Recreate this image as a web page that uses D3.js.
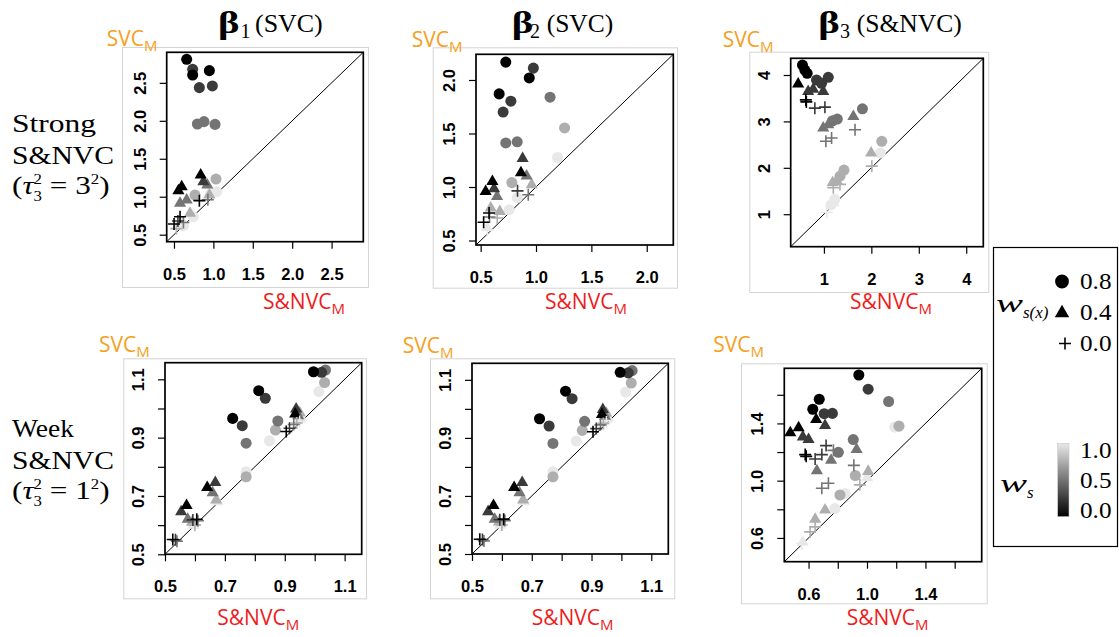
<!DOCTYPE html>
<html>
<head>
<meta charset="utf-8">
<script src="https://cdn.jsdelivr.net/npm/d3@7"></script>
<style>
  body { margin: 0; background: #fff; }
</style>
</head>
<body>
<svg id="fig" width="1119" height="637"></svg>
<script>
// Each point: [S&NVC_M, SVC_M, w_s(x), w_s]
const strongB1 = [
  [0.62,0.62,0.8,1],[0.746,0.737,0.8,1],[1.042,1.066,0.8,1],
  [1.033,1.233,0.8,0.75],[0.767,1.022,0.8,0.75],
  [0.797,1.958,0.8,0.5],[0.881,1.989,0.8,0.5],[1.021,1.953,0.8,0.5],
  [0.737,2.678,0.8,0.25],[0.822,2.437,0.8,0.25],[0.987,2.459,0.8,0.25],
  [0.661,2.810,0.8,0],[0.737,2.603,0.8,0],[0.949,2.661,0.8,0],
  [0.60,0.66,0.4,1],[0.95,1.06,0.4,1],
  [0.703,0.781,0.4,0.75],[0.949,1.022,0.4,0.75],
  [0.923,1.154,0.4,0.5],[0.577,0.913,0.4,0.5],[0.661,0.957,0.4,0.5],
  [0.873,1.198,0.4,0.25],
  [0.556,1.079,0.4,0],[0.598,1.132,0.4,0],[0.839,1.286,0.4,0],
  [0.53,0.58,0,0.75],[0.62,0.66,0,0.5],[0.93,0.96,0,0.5],
  [0.55,0.68,0,0.25],
  [0.822,0.948,0,0],[0.577,0.737,0,0],[0.501,0.640,0,0]
];
const strongB2 = [
  [1.194,1.276,0.8,1],[0.758,0.788,0.8,1],[0.83,0.90,0.8,1],
  [1.258,1.552,0.8,0.75],[0.782,1.041,0.8,0.75],
  [1.127,1.839,0.8,0.5],[0.727,1.412,0.8,0.5],[0.830,1.422,0.8,0.5],
  [0.976,2.111,0.8,0.25],[0.773,1.802,0.8,0.25],[0.703,1.700,0.8,0.25],
  [0.727,2.167,0.8,0],[0.939,2.019,0.8,0],[0.667,1.870,0.8,0],
  [0.56,0.62,0.4,1],
  [0.591,0.803,0.4,0.75],[0.673,0.772,0.4,0.75],[0.961,1.020,0.4,0.75],
  [0.648,0.911,0.4,0.5],[0.915,1.103,0.4,0.5],
  [0.621,0.983,0.4,0.25],[0.879,1.267,0.4,0.25],
  [0.545,0.958,0.4,0],[0.606,1.051,0.4,0],[0.864,1.134,0.4,0],
  [0.56,0.60,0,1],[0.65,0.71,0,0.75],
  [0.930,0.927,0,0.5],[0.58,0.72,0,0.5],
  [0.833,0.964,0,0.25],
  [0.527,0.670,0,0],[0.576,0.757,0,0]
];
const strongB3 = [
  [2.19,2.32,0.8,1],[1.23,1.32,0.8,1],[1.15,1.2,0.8,1],
  [2.22,2.571,0.8,0.75],[1.423,1.95,0.8,0.75],[1.34,1.82,0.8,0.75],
  [1.812,3.271,0.8,0.5],[1.183,3.014,0.8,0.5],[1.282,3.05,0.8,0.5],
  [0.845,3.893,0.8,0.25],[0.951,3.821,0.8,0.25],[1.092,3.950,0.8,0.25],
  [0.548,4.214,0.8,0],[0.598,4.107,0.8,0],[0.647,4.036,0.8,0],
  [1.2,1.25,0.4,1],
  [1.183,1.679,0.4,0.75],[1.995,2.321,0.4,0.75],[1.27,1.72,0.4,0.75],
  [0.986,2.857,0.4,0.5],[1.092,2.929,0.4,0.5],[1.621,3.107,0.4,0.5],
  [0.668,3.643,0.4,0.25],[0.774,3.693,0.4,0.25],[0.986,3.643,0.4,0.25],
  [0.457,3.807,0.4,0],
  [1.06,1.036,0,1],
  [1.198,1.571,0,0.75],[1.339,1.643,0,0.75],[2.01,2.036,0,0.75],
  [1.042,2.571,0,0.5],[1.162,2.643,0,0.5],[1.656,2.821,0,0.5],
  [0.809,3.286,0,0.25],[1.021,3.307,0,0.25],
  [0.619,3.464,0,0],[0.63,3.42,0,0]
];
const weakB1 = [
  [1.014,1.058,0.8,1],[0.849,0.889,0.8,1],[0.771,0.783,0.8,1],
  [1.033,1.089,0.8,0.75],[0.869,0.926,0.8,0.75],[0.771,0.766,0.8,0.75],
  [1.036,1.132,0.8,0.5],[0.877,0.957,0.8,0.5],[0.771,0.881,0.8,0.5],
  [1.023,1.124,0.8,0.25],[0.835,1.035,0.8,0.25],[0.758,0.941,0.8,0.25],
  [0.996,1.126,0.8,0],[0.813,1.061,0.8,0],[0.726,0.966,0.8,0],
  [0.955,0.97,0.4,1],[0.675,0.68,0.4,1],[0.595,0.60,0.4,1],
  [0.95,0.985,0.4,0.75],[0.671,0.686,0.4,0.75],[0.59,0.61,0.4,0.75],
  [0.945,0.975,0.4,0.5],[0.659,0.711,0.4,0.5],[0.576,0.620,0.4,0.5],
  [0.938,0.998,0.4,0.25],[0.668,0.746,0.4,0.25],[0.554,0.646,0.4,0.25],
  [0.935,0.981,0.4,0],[0.641,0.729,0.4,0],[0.572,0.667,0.4,0],
  [0.95,0.955,0,1],
  [0.94,0.95,0,0.75],[0.60,0.60,0,0.75],
  [0.93,0.945,0,0.5],[0.61,0.615,0,0.5],[0.54,0.545,0,0.5],
  [0.916,0.932,0,0.25],[0.593,0.618,0,0.25],[0.535,0.55,0,0.25],
  [0.905,0.921,0,0],[0.606,0.620,0,0],[0.526,0.551,0,0]
];
const weakB2 = [
  [1.014,1.058,0.8,1],[0.849,0.889,0.8,1],[0.771,0.783,0.8,1],
  [1.033,1.089,0.8,0.75],[0.869,0.926,0.8,0.75],[0.771,0.766,0.8,0.75],
  [1.036,1.132,0.8,0.5],[0.877,0.957,0.8,0.5],[0.771,0.881,0.8,0.5],
  [1.023,1.124,0.8,0.25],[0.835,1.035,0.8,0.25],[0.758,0.941,0.8,0.25],
  [0.996,1.126,0.8,0],[0.813,1.061,0.8,0],[0.726,0.966,0.8,0],
  [0.955,0.97,0.4,1],[0.675,0.68,0.4,1],[0.595,0.60,0.4,1],
  [0.95,0.985,0.4,0.75],[0.671,0.686,0.4,0.75],[0.59,0.61,0.4,0.75],
  [0.945,0.975,0.4,0.5],[0.659,0.711,0.4,0.5],[0.576,0.620,0.4,0.5],
  [0.938,0.998,0.4,0.25],[0.668,0.746,0.4,0.25],[0.554,0.646,0.4,0.25],
  [0.935,0.981,0.4,0],[0.641,0.729,0.4,0],[0.572,0.667,0.4,0],
  [0.95,0.955,0,1],
  [0.94,0.95,0,0.75],[0.60,0.60,0,0.75],
  [0.93,0.945,0,0.5],[0.61,0.615,0,0.5],[0.54,0.545,0,0.5],
  [0.916,0.932,0,0.25],[0.593,0.618,0,0.25],[0.535,0.55,0,0.25],
  [0.905,0.921,0,0],[0.606,0.620,0,0],[0.526,0.551,0,0]
];
const weakB3 = [
  [1.189,1.374,0.8,1],[0.85,0.91,0.8,1],[0.781,0.806,0.8,1],
  [1.219,1.381,0.8,0.75],[0.920,1.036,0.8,0.75],[0.815,0.900,0.8,0.75],
  [1.148,1.553,0.8,0.5],[0.906,1.287,0.8,0.5],[0.804,1.198,0.8,0.5],
  [1.008,1.639,0.8,0.25],[0.707,1.468,0.8,0.25],[0.763,1.470,0.8,0.25],
  [0.944,1.738,0.8,0],[0.673,1.569,0.8,0],[0.629,1.499,0.8,0],
  [0.56,0.57,0.4,1],[1.0,1.02,0.4,1],
  [1.008,1.065,0.4,0.75],[0.713,0.795,0.4,0.75],[0.645,0.731,0.4,0.75],
  [0.929,1.217,0.4,0.5],[0.754,1.142,0.4,0.5],[0.657,1.069,0.4,0.5],
  [0.561,1.306,0.4,0.25],[0.60,1.287,0.4,0.25],[0.713,1.386,0.4,0.25],
  [0.475,1.334,0.4,0],[0.532,1.370,0.4,0],[0.652,1.428,0.4,0],
  [0.555,0.560,0,1],
  [0.951,0.971,0,0.75],[0.645,0.677,0,0.75],[0.611,0.642,0,0.75],
  [0.77,1.212,0,0.5],[0.910,1.107,0,0.5],[0.691,0.947,0,0.5],[0.736,0.982,0,0.5],
  [0.645,1.151,0,0.25],[0.72,1.245,0,0.25],[0.691,1.182,0,0.25],
  [0.577,1.182,0,0],[0.584,1.17,0,0]
];

// Tick values per panel
const ticksB1Strong = [0.5, 1.0, 1.5, 2.0, 2.5];
const ticksB2Strong = [0.5, 1.0, 1.5, 2.0];
const ticksB3Strong = [1, 2, 3, 4];
const ticksWeak = [0.5, 0.6, 0.7, 0.8, 0.9, 1.0, 1.1];
const labelsWeak = [0.5, 0.7, 0.9, 1.1];
const ticksB3Weak = [0.6, 0.8, 1.0, 1.2, 1.4, 1.6];
const labelsB3Weak = [0.6, 1.0, 1.4];

// Legend values
const shapeLegend = [0.8, 0.4, 0.0];
const shadeLegend = [1.0, 0.5, 0.0];

const svg = d3.select("#fig");

const shade = d3.scaleLinear().domain([0, 1]).range(["#000000", "#e8e8e8"]);
const triPath = d3.symbol().type(d3.symbolTriangle).size(64)();
const circPath = d3.symbol().type(d3.symbolCircle).size(96)();
const plusPath = "M-6,0H6M0,-6V6";

const panels = [
  { data: strongB1, domain: [0.4076, 2.9024], ticks: ticksB1Strong, labels: ticksB1Strong, fmt: ".1f",
    box: [166.7, 52.3, 363.3, 241.7], frame: [122, 47, 368, 287], svc: [106.7, 46], snvc: [263, 309] },
  { data: strongB2, domain: [0.458, 2.24], ticks: ticksB2Strong, labels: ticksB2Strong, fmt: ".1f",
    box: [476, 54.3, 673.3, 245], frame: [432.7, 47.3, 677, 287.7], svc: [411.7, 46.5], snvc: [545, 309] },
  { data: strongB3, domain: [0.30, 4.36], ticks: ticksB3Strong, labels: ticksB3Strong, fmt: "d",
    box: [790.7, 58.3, 983.3, 246.7], frame: [749.3, 51.7, 988.3, 292], svc: [722.7, 46.7], snvc: [850, 309] },
  { data: weakB1, domain: [0.5, 1.157], ticks: ticksWeak, labels: labelsWeak, fmt: ".1f",
    box: [165, 362.7, 361.7, 554.3], frame: [123.3, 358.3, 366, 598.3], svc: [99, 352], snvc: [217.3, 625] },
  { data: weakB2, domain: [0.5, 1.157], ticks: ticksWeak, labels: labelsWeak, fmt: ".1f",
    box: [472, 363.3, 668.3, 554], frame: [430, 358.3, 674.3, 598.3], svc: [402.7, 353], snvc: [531.7, 625] },
  { data: weakB3, domain: [0.434, 1.785], ticks: ticksB3Weak, labels: labelsB3Weak, fmt: ".1f",
    box: [784.3, 368.3, 981.7, 561.7], frame: [741, 363.3, 986.7, 603.3], svc: [713.3, 352], snvc: [846.7, 625] }
];

function subLabel(x, y, main, sub, color) {
  const t = svg.append("text")
    .attr("x", x).attr("y", y)
    .attr("font-family", "'Open Sans', 'Noto Sans', sans-serif")
    .attr("font-size", 21).attr("fill", color);
  t.append("tspan").text(main);
  t.append("tspan").attr("font-size", 15).attr("dy", 5).text(sub);
}

function drawPanel(p) {
  const g = svg.append("g");
  const [bx0, by0, bx1, by1] = p.box;
  const x = d3.scaleLinear().domain(p.domain).range([bx0, bx1]);
  const y = d3.scaleLinear().domain(p.domain).range([by1, by0]);

  g.append("rect")
    .attr("x", p.frame[0] + 0.5).attr("y", p.frame[1] + 0.5)
    .attr("width", p.frame[2] - p.frame[0]).attr("height", p.frame[3] - p.frame[1])
    .attr("fill", "none").attr("stroke", "#d4d4d4").attr("stroke-width", 1);

  const fmt = d3.format(p.fmt);
  const lab = v => p.labels.some(l => Math.abs(l - v) < 1e-9) ? fmt(v) : "";

  const xa = g.append("g").attr("transform", `translate(0,${by1})`)
    .call(d3.axisBottom(x).tickValues(p.ticks).tickSize(7).tickFormat(lab));
  const ya = g.append("g").attr("transform", `translate(${bx0},0)`)
    .call(d3.axisLeft(y).tickValues(p.ticks).tickSize(7).tickFormat(lab));
  [xa, ya].forEach(a => {
    a.select(".domain").remove();
    a.attr("font-family", "'Liberation Sans', Arial, sans-serif").attr("font-size", 16.5).attr("font-weight", "bold");
    a.selectAll(".tick line").attr("stroke", "#000").attr("stroke-width", 1.2);
    a.selectAll(".tick text").attr("fill", "#000");
  });
  xa.selectAll(".tick text").attr("y", 38).attr("dy", 0);
  ya.selectAll(".tick text")
    .attr("transform", "rotate(-90)").attr("x", 0).attr("y", -21).attr("dy", 0)
    .attr("text-anchor", "middle");

  // identity line from corner to corner
  g.append("line")
    .attr("x1", x(p.domain[0])).attr("y1", y(p.domain[0]))
    .attr("x2", x(p.domain[1])).attr("y2", y(p.domain[1]))
    .attr("stroke", "#000").attr("stroke-width", 1);

  const pts = g.append("g");
  p.data.forEach(d => {
    const col = shade(d[3]);
    const tr = `translate(${x(d[0])},${y(d[1])})`;
    if (d[2] === 0.8) {
      pts.append("path").attr("d", circPath).attr("transform", tr).attr("fill", col);
    } else if (d[2] === 0.4) {
      pts.append("path").attr("d", triPath).attr("transform", tr).attr("fill", col);
    } else {
      pts.append("path").attr("d", plusPath).attr("transform", tr)
        .attr("fill", "none").attr("stroke", col).attr("stroke-width", 1.6);
    }
  });

  g.append("rect")
    .attr("x", bx0).attr("y", by0).attr("width", bx1 - bx0).attr("height", by1 - by0)
    .attr("fill", "none").attr("stroke", "#000").attr("stroke-width", 1.7);

  subLabel(p.svc[0], p.svc[1], "SVC", "M", "#f5a020");
  subLabel(p.snvc[0], p.snvc[1], "S&NVC", "M", "#ee1c1c");
}

panels.forEach(drawPanel);

const serif = "'Liberation Serif', 'Times New Roman', serif";

// Column titles
const titles = [
  { bx: 218, sub: "1", sx: 240.5, txt: "(SVC)", tx: 255, tw: 67.7 },
  { bx: 511.7, sub: "2", sx: 530, txt: "(SVC)", tx: 546.7, tw: 66.6 },
  { bx: 818.3, sub: "3", sx: 840, txt: "(S&NVC)", tx: 856.7, tw: 105 }
];
titles.forEach(t => {
  svg.append("text").attr("x", t.bx).attr("y", 33).attr("font-family", serif)
    .attr("font-size", 31).attr("font-weight", "bold").attr("textLength", 21.5)
    .attr("lengthAdjust", "spacingAndGlyphs").text("β");
  svg.append("text").attr("x", t.sx).attr("y", 37.5).attr("font-family", serif)
    .attr("font-size", 20).text(t.sub);
  svg.append("text").attr("x", t.tx).attr("y", 32).attr("font-family", serif)
    .attr("font-size", 25).attr("textLength", t.tw).attr("lengthAdjust", "spacingAndGlyphs").text(t.txt);
});

// Row labels
function rowLabel(y0, word, wordW, tau) {
  svg.append("text").attr("x", 12).attr("y", y0).attr("font-family", serif).attr("font-size", 25)
    .attr("textLength", wordW).attr("lengthAdjust", "spacingAndGlyphs").text(word);
  svg.append("text").attr("x", 12).attr("y", y0 + 32.5).attr("font-family", serif).attr("font-size", 25)
    .attr("textLength", 102).attr("lengthAdjust", "spacingAndGlyphs").text("S&NVC");
  const t = svg.append("text")
    .attr("transform", `translate(12,${y0 + 62}) scale(1.2,1)`)
    .attr("font-family", serif).attr("font-size", 26);
  t.append("tspan").text("(");
  t.append("tspan").attr("font-style", "italic").text("τ");
  t.append("tspan").attr("font-size", 14).attr("dy", 7).text("3");
  t.append("tspan").attr("font-size", 14).attr("dx", -7).attr("dy", -17).text("2");
  t.append("tspan").attr("dy", 10).text(" = " + tau);
  t.append("tspan").attr("font-size", 14).attr("dy", -10).text("2");
  t.append("tspan").attr("dy", 10).text(")");
}
rowLabel(131.5, "Strong", 84, "3");
rowLabel(436.5, "Week", 62, "1");

// Legend
const lg = svg.append("g");
lg.append("rect").attr("x", 993.5).attr("y", 247.5).attr("width", 124).attr("height", 299)
  .attr("fill", "none").attr("stroke", "#000").attr("stroke-width", 1.2);

const legY = [281.5, 313, 343.5];
shapeLegend.forEach((v, i) => {
  const tr = `translate(1062,${legY[i]})`;
  if (v === 0.8) lg.append("path").attr("d", d3.symbol().type(d3.symbolCircle).size(150)()).attr("transform", tr).attr("fill", "#000");
  else if (v === 0.4) lg.append("path").attr("d", d3.symbol().type(d3.symbolTriangle).size(90)()).attr("transform", tr).attr("fill", "#000");
  else lg.append("path").attr("d", "M-6,0H6M0,-6V6").attr("transform", `translate(1065,${legY[i]})`)
    .attr("stroke", "#000").attr("stroke-width", 1.6);
  lg.append("text").attr("x", 1080).attr("y", legY[i] + 7).attr("font-family", serif)
    .attr("font-size", 23).attr("textLength", 31.5).attr("lengthAdjust", "spacingAndGlyphs").text(d3.format(".1f")(v));
});
const wsx = lg.append("text").attr("x", 996).attr("y", 312).attr("font-family", serif).attr("font-size", 26);
wsx.append("tspan").attr("font-style", "italic").attr("textLength", 27).attr("lengthAdjust", "spacingAndGlyphs").text("w");
wsx.append("tspan").attr("font-style", "italic").attr("font-size", 17).attr("dy", 6).text("s(x)");

const defs = svg.append("defs");
const grad = defs.append("linearGradient").attr("id", "wsGrad").attr("x1", 0).attr("y1", 1).attr("x2", 0).attr("y2", 0);
d3.range(0, 1.0001, 0.1).forEach(t => grad.append("stop").attr("offset", t).attr("stop-color", shade(t)));
lg.append("rect").attr("x", 1057.7).attr("y", 443.3).attr("width", 11.3).attr("height", 73.4)
  .attr("fill", "url(#wsGrad)").attr("stroke", "#c8c8c8").attr("stroke-width", 0.6);
const cbY = d3.scaleLinear().domain([0, 1]).range([517.7, 458.3]);
shadeLegend.forEach(v => {
  lg.append("text").attr("x", 1080).attr("y", cbY(v)).attr("font-family", serif)
    .attr("font-size", 23).attr("textLength", 31.5).attr("lengthAdjust", "spacingAndGlyphs").text(d3.format(".1f")(v));
});
const ws = lg.append("text").attr("x", 1000).attr("y", 491.5).attr("font-family", serif).attr("font-size", 26);
ws.append("tspan").attr("font-style", "italic").attr("textLength", 27).attr("lengthAdjust", "spacingAndGlyphs").text("w");
ws.append("tspan").attr("font-style", "italic").attr("font-size", 17).attr("dy", 6).text("s");
</script>
</body>
</html>
